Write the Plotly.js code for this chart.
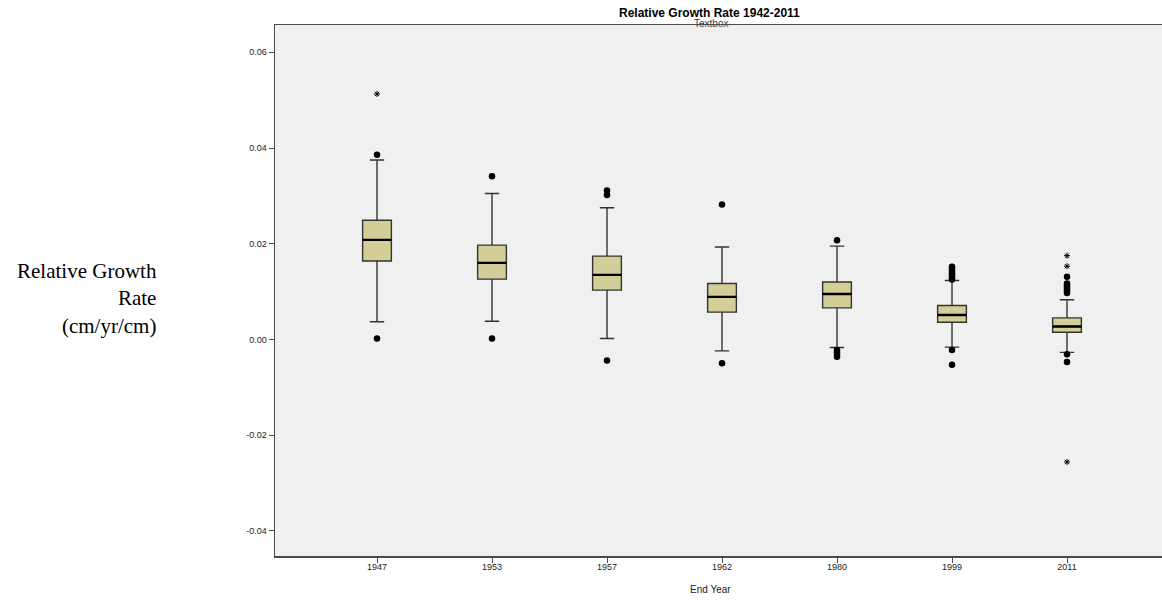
<!DOCTYPE html>
<html>
<head>
<meta charset="utf-8">
<script src="https://cdn.plot.ly/plotly-3.0.1.min.js"></script>
<style>
  html, body { margin: 0; padding: 0; background: #ffffff; }
  #chart { width: 1162px; height: 600px; }
</style>
</head>
<body>
<div id="chart"></div>
<script>
// End years of each measurement interval
const endYears = ['1947', '1953', '1957', '1962', '1980', '1999', '2011'];

// Box statistics of relative growth rate (cm/yr/cm) per interval
const q1Values      = [0.0164, 0.0126, 0.0103, 0.0057, 0.0066, 0.0036, 0.0015];
const medianValues  = [0.0208, 0.0160, 0.0135, 0.0089, 0.0095, 0.0051, 0.0027];
const q3Values      = [0.0249, 0.0197, 0.0174, 0.0117, 0.0120, 0.0071, 0.0045];
const lowerWhiskers = [0.0037, 0.0038, 0.0002, -0.0024, -0.0017, -0.0016, -0.0027];
const upperWhiskers = [0.0375, 0.0305, 0.0275, 0.0193, 0.0195, 0.0123, 0.0083];

// Outliers (circles), listed as year / value pairs
const outlierYears = ['1947', '1947', '1953', '1953', '1957', '1957', '1957',
  '1962', '1962', '1980', '1980', '1980', '1980', '1980',
  '1999', '1999', '1999', '1999', '1999', '1999', '1999', '1999', '1999', '1999',
  '2011', '2011', '2011', '2011', '2011', '2011', '2011', '2011', '2011'];
const outlierValues = [0.0386, 0.0002, 0.0341, 0.0002, 0.0311, 0.0302, -0.0044,
  0.0282, -0.0050, 0.0207, -0.0022, -0.0027, -0.0032, -0.0036,
  0.0152, 0.0148, 0.0144, 0.0140, 0.0136, 0.0132, 0.0128, -0.0022, -0.0053, 0.0125,
  0.0131, 0.0117, 0.0113, 0.0109, 0.0105, 0.0101, 0.0097, -0.0031, -0.0047];

// Extreme values (asterisks)
const extremeYears  = ['1947', '2011', '2011', '2011'];
const extremeValues = [0.0513, 0.0175, 0.0153, -0.0256];

// Y axis ticks
const yTickValues = [-0.04, -0.02, 0.00, 0.02, 0.04, 0.06];
const yTickLabels = ['-0.04', '-0.02', '0.00', '0.02', '0.04', '0.06'];

const boxWidth = 0.25;

const boxes = {
  type: 'box',
  x: endYears,
  q1: q1Values,
  median: medianValues,
  q3: q3Values,
  lowerfence: lowerWhiskers,
  upperfence: upperWhiskers,
  width: boxWidth,
  whiskerwidth: 0.5,
  fillcolor: 'rgb(211,206,151)',
  line: { color: '#333333', width: 1.4 },
  boxpoints: false,
  hoverinfo: 'skip',
  showlegend: false
};

// Heavier median bar laid over each box
const medians = {
  type: 'box',
  x: endYears,
  q1: medianValues,
  median: medianValues,
  q3: medianValues,
  lowerfence: medianValues,
  upperfence: medianValues,
  width: boxWidth,
  whiskerwidth: 0,
  fillcolor: 'rgba(0,0,0,0)',
  line: { color: '#000000', width: 2.4 },
  boxpoints: false,
  hoverinfo: 'skip',
  showlegend: false
};

const outliers = {
  type: 'scatter',
  mode: 'markers',
  x: outlierYears,
  y: outlierValues,
  marker: { symbol: 'circle', size: 6.5, color: '#000000' },
  hoverinfo: 'skip',
  showlegend: false
};

const extremes = {
  type: 'scatter',
  mode: 'markers',
  x: extremeYears,
  y: extremeValues,
  marker: { symbol: 'asterisk-open', size: 5, color: '#000000', line: { color: '#222222', width: 1 } },
  hoverinfo: 'skip',
  showlegend: false
};

const axisFont = { family: 'Liberation Sans, Arial, sans-serif', size: 9, color: '#222222' };

const layout = {
  width: 1162,
  height: 600,
  margin: { l: 275, r: 0, t: 25, b: 44 },
  paper_bgcolor: '#ffffff',
  plot_bgcolor: '#f0f0f0',
  boxmode: 'overlay',
  xaxis: {
    type: 'category',
    categoryorder: 'array',
    categoryarray: endYears,
    range: [-0.887, 6.826],
    showgrid: false,
    zeroline: false,
    showline: true,
    mirror: true,
    linecolor: '#4a4a4a',
    linewidth: 1.5,
    ticks: 'outside',
    ticklen: 5,
    tickcolor: '#4a4a4a',
    tickfont: axisFont,
    ticklabelstandoff: -3,
    fixedrange: true
  },
  yaxis: {
    range: [-0.04525, 0.0657],
    tickvals: yTickValues,
    ticktext: yTickLabels,
    showgrid: false,
    zeroline: false,
    showline: true,
    linecolor: '#4a4a4a',
    linewidth: 1.5,
    ticks: 'outside',
    ticklen: 5,
    tickcolor: '#4a4a4a',
    tickfont: axisFont,
    fixedrange: true
  },
  annotations: [
    {
      text: '<b>Relative Growth Rate 1942-2011</b>',
      xref: 'paper', yref: 'paper',
      x: 0.49, y: 1, yshift: 12,
      xanchor: 'center', yanchor: 'middle',
      showarrow: false,
      font: { family: 'Liberation Sans, Arial, sans-serif', size: 12, color: '#000000' }
    },
    {
      text: 'Textbox',
      xref: 'paper', yref: 'paper',
      x: 0.491, y: 1, yshift: 2,
      xanchor: 'center', yanchor: 'middle',
      showarrow: false,
      font: { family: 'Liberation Sans, Arial, sans-serif', size: 10, color: '#444444' }
    },
    {
      // x axis title, centred under the title block
      text: 'End Year',
      xref: 'paper', yref: 'paper',
      x: 0.491, y: 0, yshift: -33,
      xanchor: 'center', yanchor: 'middle',
      showarrow: false,
      font: { family: 'Liberation Sans, Arial, sans-serif', size: 10, color: '#222222' }
    },
    {
      text: 'Relative Growth<br>Rate<br>(cm/yr/cm)',
      xref: 'paper', yref: 'paper',
      x: -0.133, y: 0.484, xshift: 2,
      xanchor: 'right', yanchor: 'middle',
      align: 'right',
      showarrow: false,
      font: { family: 'Liberation Serif, Times New Roman, serif', size: 21, color: '#000000' }
    }
  ]
};

Plotly.newPlot('chart', [boxes, medians, outliers, extremes], layout, { displayModeBar: false, staticPlot: true });
</script>
</body>
</html>
